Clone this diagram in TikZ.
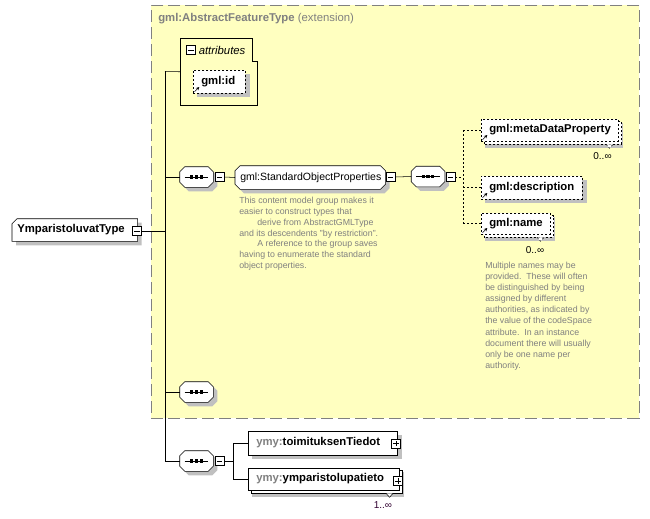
\documentclass[tikz,border=0pt]{standalone}
\usepackage{fontspec}
\setmainfont{Liberation Sans}
\usetikzlibrary{arrows.meta,calc}
\definecolor{bgyellow}{RGB}{255,255,192}
\definecolor{framegrey}{RGB}{128,128,128}
\definecolor{shadowgrey}{RGB}{192,192,192}
\definecolor{docgrey}{RGB}{128,128,128}
\definecolor{occcol}{RGB}{48,0,48}
\pgfdeclarelayer{bg}
\pgfdeclarelayer{back}
\pgfsetlayers{bg,back,main}
% outline with cut corners round a node
\newcommand{\octpath}[2]{([yshift=-#2]#1.north west) -- ([xshift=#2]#1.north west)
  -- ([xshift=-#2]#1.north east) -- ([yshift=-#2]#1.north east)
  -- ([yshift=#2]#1.south east) -- ([xshift=-#2]#1.south east)
  -- ([xshift=#2]#1.south west) -- ([yshift=#2]#1.south west) -- cycle}

\begin{document}
\begin{tikzpicture}[x=0.75pt,y=-0.75pt]
    \tikzset{%
      elem/.style={rectangle, draw, fill=white, inner xsep=6pt, inner ysep=0pt,
        align=left, anchor=west, font=\fontsize{8.5}{10}\selectfont\bfseries},
      refline/.style={dash pattern=on 1.5pt off 1.5pt},
      ref/.style={elem, refline, path picture={
        \draw[solid, -{Stealth[length=2.5pt,width=2.5pt]}]
          ([shift={(1pt,1pt)}]path picture bounding box.south west) -- ++(3.5pt,3.5pt);}},
      ctype/.style={rectangle, inner xsep=3.75pt, inner ysep=0pt, align=left,
        anchor=west, font=\fontsize{8.5}{10}\selectfont\bfseries},
      group/.style={rectangle, inner xsep=3.75pt, inner ysep=0pt, align=left,
        anchor=west, font=\fontsize{7.9}{9}\selectfont},
      seq/.style={rectangle, minimum width=24.75pt, minimum height=15pt,
        inner sep=0pt, path picture={
        \draw[line width=0.75pt] ([xshift=3.5pt]path picture bounding box.west)
          -- ([xshift=-3.5pt]path picture bounding box.east);
        \foreach \d in {-3.6,0,3.6}{\fill ([xshift=\d pt]path picture bounding box.center)
          +(-1.2pt,-1.2pt) rectangle +(1.2pt,1.2pt);}}},
      minusbox/.style={rectangle, draw, fill=white, inner sep=0pt, minimum size=7pt,
        path picture={\draw ([xshift=1.5pt]path picture bounding box.west)
          -- ([xshift=-1.5pt]path picture bounding box.east);}},
      plusbox/.style={minusbox, path picture={
        \draw ([xshift=1.5pt]path picture bounding box.west)
          -- ([xshift=-1.5pt]path picture bounding box.east);
        \draw ([yshift=1.5pt]path picture bounding box.south)
          -- ([yshift=-1.5pt]path picture bounding box.north);}},
      doc/.style={anchor=north west, align=left, inner sep=0pt, text=docgrey},
      occ/.style={inner sep=0pt, font=\fontsize{7.5}{9}\selectfont},
      notch/.style={fill=white, line join=round},
      shadowed/.style={transform canvas={shift={(3pt,-3pt)}}, fill=shadowgrey},
    }
    \useasboundingbox (0,0) rectangle (650,518);
    % base type frame
    \begin{pgfonlayer}{bg}
    \node[draw=framegrey, dash pattern=on 9pt off 3.75pt, fill=bgyellow,
      minimum width=366pt, minimum height=309.75pt, anchor=north west,
      inner sep=0pt] (base) at (151,5) {};
    \end{pgfonlayer}
    \node[anchor=west, inner sep=0pt, text=framegrey,
      font=\fontsize{8.5}{10}\selectfont] (basetitle) at (158,19)
      {\textbf{gml:AbstractFeatureType} (extension)};

    % the complex type
    \node[ctype, text width=86.25pt, minimum height=16.5pt] (ytype) at (12,230)
      {YmparistoluvatType};
    \node[minusbox] (ytypem) at (137,231) {};
    \coordinate (spinetop) at (165,71.5);
    \coordinate (spinebot) at (165,461);

    % attributes
    \node[minimum width=57.75pt, minimum height=50.25pt, inner sep=0pt,
      anchor=north west] (attr) at (180,38) {};
    \draw (attr.north west) -- ([xshift=-3.75pt]attr.north east)
      |- ([yshift=-17.25pt]attr.north east) -- (attr.south east)
      -- (attr.south west) -- cycle;
    \node[minusbox] (attrm) at (191,50) {};
    \node[anchor=west, inner sep=0pt, font=\fontsize{8.5}{10}\selectfont\itshape]
      (attrlabel) at (198.5,50) {attributes};
    \node[ref, text width=27pt, minimum height=17.25pt] (gmlid) at (193,81.5) {gml:id};

    % standard object properties
    \node[seq] (seq1) at (196.5,177) {};
    \node[minusbox] (seq1m) at (219.5,177) {};
    \node[group, text width=105pt, minimum height=17.25pt] (sop) at (235,177.5)
      {gml:StandardObjectProperties};
    \node[minusbox] (sopm) at (390.5,177) {};
    \node[doc, font=\fontsize{6.6}{8.1}\selectfont] (sopdoc) at (239,197)
      {This content model group makes it\\
       easier to construct types that\\
       \hspace*{13.5pt}derive from AbstractGMLType\\
       and its descendents "by restriction".\\
       \hspace*{13.5pt}A reference to the group saves\\
       having to enumerate the standard\\
       object properties.};
    \node[seq] (seq2) at (428,176.5) {};
    \node[minusbox] (seq2m) at (450.5,177) {};
    \coordinate (fork) at (463,177);
    \node[ref, text width=90.75pt, minimum height=16.5pt] (mdp) at (481,130)
      {gml:metaDataProperty};
    \node[ref, text width=63.75pt, minimum height=17.25pt] (desc) at (481,187.5)
      {gml:description};
    \node[ref, text width=39.75pt, minimum height=15.75pt] (name) at (481,223.5)
      {gml:name};
    \node[occ] (mdpocc) at (602.5,156.5) {0..∞};
    \node[occ] (nameocc) at (535,250) {0..∞};
    \node[doc, font=\fontsize{6.6}{8.3}\selectfont] (namedoc) at (485,262)
      {Multiple names may be\\
       provided.\ \ These will often\\
       be distinguished by being\\
       assigned by different\\
       authorities, as indicated by\\
       the value of the codeSpace\\
       attribute.\ \ In an instance\\
       document there will usually\\
       only be one name per\\
       authority.};

    % empty sequence and own elements
    \node[seq] (seq3) at (196.5,392) {};
    \node[seq] (seq4) at (196.5,461) {};
    \node[minusbox] (seq4m) at (219.5,461) {};
    \coordinate (fork2) at (233,461);
    \node[elem, text width=99.75pt, minimum height=18pt] (toim) at (248,443)
      {\textcolor{framegrey}{ymy:}toimituksenTiedot};
    \node[plusbox] (toimp) at (396,443.5) {};
    \node[elem, text width=101.25pt, minimum height=16.5pt] (ymp) at (248,479)
      {\textcolor{framegrey}{ymy:}ymparistolupatieto};
    \node[plusbox] (ympp) at (398,481) {};
    \node[occ, text=occcol] (ympocc) at (383,505) {1..∞};

    % shadows, stacks and cut outlines behind the nodes
    \begin{pgfonlayer}{back}
    \foreach \n in {gmlid,desc,toim}
      \fill[shadowgrey] ([shift={(3pt,-3pt)}]\n.north west)
        rectangle ([shift={(3pt,-3pt)}]\n.south east);
    \foreach \n in {mdp,name,ymp}
      \fill[shadowgrey] ([shift={(3pt,-3pt)}]\n.north west)
        rectangle ([shift={(3pt,-5pt)}]\n.south east);
    \foreach \n in {mdp,name}
      \draw[refline, fill=white] ([shift={(2.25pt,-2.25pt)}]\n.north west)
        rectangle ([shift={(2.25pt,-2.25pt)}]\n.south east);
    \draw[fill=white] ([shift={(2.25pt,-2.25pt)}]ymp.north west)
      rectangle ([shift={(2.25pt,-2.25pt)}]ymp.south east);
    \foreach \n in {seq1,seq2,seq3,seq4,sop}{
      \fill[shadowed] \octpath{\n}{3.75pt};
      \draw[fill=white] \octpath{\n}{3.75pt};
    }
    \fill[shadowed] ([yshift=-3.75pt]ytype.north west) -- ([xshift=3.75pt]ytype.north west)
      -- (ytype.north east) -- (ytype.south east) -- (ytype.south west) -- cycle;
    \draw[fill=white] ([yshift=-3.75pt]ytype.north west) -- ([xshift=3.75pt]ytype.north west)
      -- (ytype.north east) -- (ytype.south east) -- (ytype.south west) -- cycle;
    \end{pgfonlayer}
    \draw[notch, refline] ($(mdp.south east)+(-12.5,3)$) -- ++(3.5,4) -- ++(3.5,-4);
    \draw[notch, refline] ($(name.south east)+(-13.5,3)$) -- ++(3.5,4) -- ++(3.5,-4);
    \draw[notch] ($(ymp.south east)+(-13.5,3)$) -- ++(3.5,4) -- ++(3.5,-4);

    % connectors
    \draw (ytypem.east) -- (ytypem.east -| spinetop);
    \draw (spinetop) -- (spinebot);
    \draw (spinetop) -- (attr.west);
    \draw (seq1.west -| spinetop) -- (seq1.west);
    \draw (seq3.west -| spinetop) -- (seq3.west);
    \draw (spinebot) -- (seq4.west);
    \draw (seq1m.east) -- (sop.west);
    \draw (sopm.east) -- (seq2.west);
    \draw[refline] (seq2m.east) -- (fork);
    \draw[refline] (mdp.west -| fork) -- (name.west -| fork);
    \foreach \n in {mdp,desc,name}
      \draw[refline] (\n.west -| fork) -- (\n.west);
    \draw (seq4m.east) -- (fork2);
    \draw (toim.west -| fork2) -- (ymp.west -| fork2);
    \draw (toim.west -| fork2) -- (toim.west);
    \draw (ymp.west -| fork2) -- (ymp.west);
\end{tikzpicture}
\end{document}
